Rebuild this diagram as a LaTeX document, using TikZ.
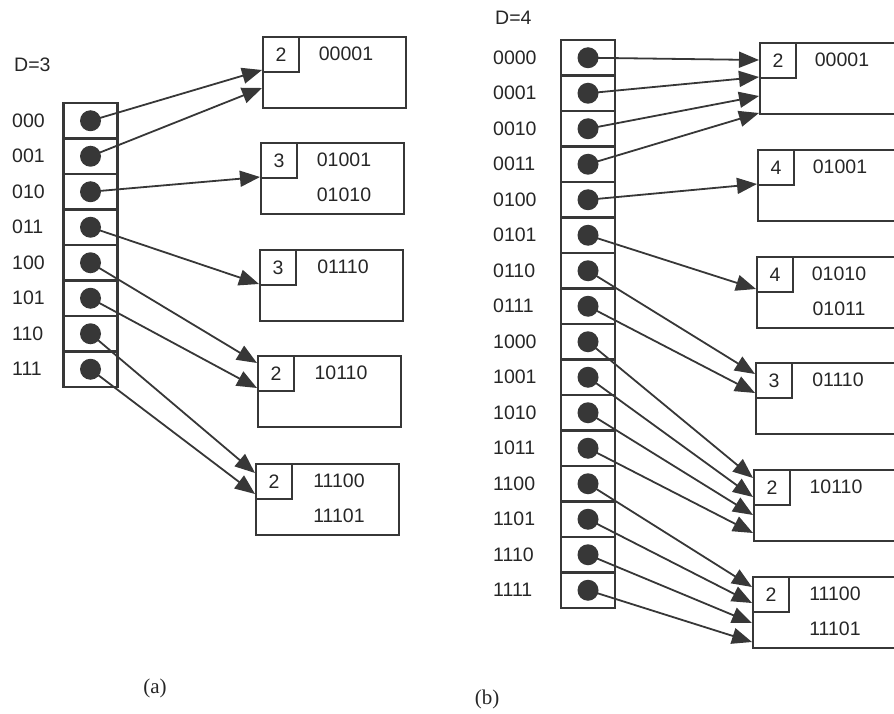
\documentclass[tikz,border=0pt]{standalone}
\usepackage{fontspec}
\setmainfont{Liberation Sans}
\newfontfamily\capfont{Liberation Serif}
\usetikzlibrary{arrows.meta,calc}
\definecolor{inkGray}{RGB}{55,55,55}

\begin{document}
\begin{tikzpicture}[x=1pt, y=-1pt,
    every node/.style={font=\fontsize{19.5}{22}\selectfont, text=black!85, inner sep=0pt},
    cell/.style={draw=inkGray, line width=2.2pt, minimum width=54pt, minimum height=35.5pt},
    dot/.style={circle, fill=inkGray, minimum size=21pt},
    bucket/.style={draw=inkGray, line width=2.2pt, anchor=north west, minimum height=71pt},
    depth/.style={draw=inkGray, line width=2pt, anchor=north west, minimum width=36pt, minimum height=35pt},
    ptr/.style={draw=inkGray, line width=1.8pt, -{Triangle[length=20pt,width=16pt]}}]
    \useasboundingbox (0,0) rectangle (894,714);
    \clip (0,0) rectangle (894,714);

    % (a) directory with global depth 3
    \node[anchor=west] (da) at (14,65) {D=3};
    \foreach \k [count=\i from 0] in {000,001,010,011,100,101,110,111} {
        \node[cell] (lc\i) at (90.5, {120.75+35.5*\i}) {};
        \node[dot] (ld\i) at (lc\i) {};
        \node[anchor=west] (ll\i) at (12, {120.75+35.5*\i}) {\k};
    }
    \foreach \n/\x/\y/\d/\ka/\kb in {1/262/36/2/00001/, 2/260/142/3/01001/01010,
        3/259/249/3/01110/, 4/257/355/2/10110/, 5/255/463/2/11100/11101} {
        \node[bucket, minimum width=143pt] (lb\n) at (\x,\y) {};
        \node[depth] (lk\n) at (lb\n.north west) {\d};
        \node (lka\n) at ([xshift=84pt,yshift=-18pt]lb\n.north west) {\ka};
        \node (lkb\n) at ([xshift=84pt,yshift=-53pt]lb\n.north west) {\kb};
    }
    \foreach \i/\b/\d in {0/1/34, 1/1/52, 2/2/35, 3/3/35, 4/4/8, 5/4/33, 6/5/10, 7/5/31}
        \draw[ptr] (ld\i.center) -- ([yshift=-\d pt]lb\b.north west);
    \node[font=\capfont\fontsize{21}{24}\selectfont] (capa) at (155,688) {(a)};

    % (b) directory with global depth 4
    \node[anchor=west] (db) at (495,18) {D=4};
    \foreach \k [count=\i from 0] in {0000,0001,0010,0011,0100,0101,0110,0111,
        1000,1001,1010,1011,1100,1101,1110,1111} {
        \node[cell] (rc\i) at (588, {57.75+35.5*\i}) {};
        \node[dot] (rd\i) at (rc\i) {};
        \node[anchor=west] (rl\i) at (493, {57.75+35.5*\i}) {\k};
    }
    \foreach \n/\x/\y/\d/\ka/\kb in {1/759/42/2/00001/, 2/757/149/4/01001/,
        3/756/256/4/01010/01011, 4/755/362/3/01110/, 5/753/469/2/10110/, 6/752/576/2/11100/11101} {
        \node[bucket, minimum width=170pt] (rb\n) at (\x,\y) {};
        \node[depth] (rk\n) at (rb\n.north west) {\d};
        \node (rka\n) at ([xshift=83pt,yshift=-18pt]rb\n.north west) {\ka};
        \node (rkb\n) at ([xshift=83pt,yshift=-53pt]rb\n.north west) {\kb};
    }
    \foreach \i/\b/\d in {0/1/18, 1/1/35, 2/1/54, 3/1/71, 4/2/35, 5/3/33, 6/4/12, 7/4/31,
        8/5/9, 9/5/28, 10/5/46, 11/5/64, 12/6/11, 13/6/27, 14/6/47, 15/6/66}
        \draw[ptr] (rd\i.center) -- ([yshift=-\d pt]rb\b.north west);
    \node[font=\capfont\fontsize{21}{24}\selectfont] (capb) at (487,699) {(b)};
\end{tikzpicture}
\end{document}
